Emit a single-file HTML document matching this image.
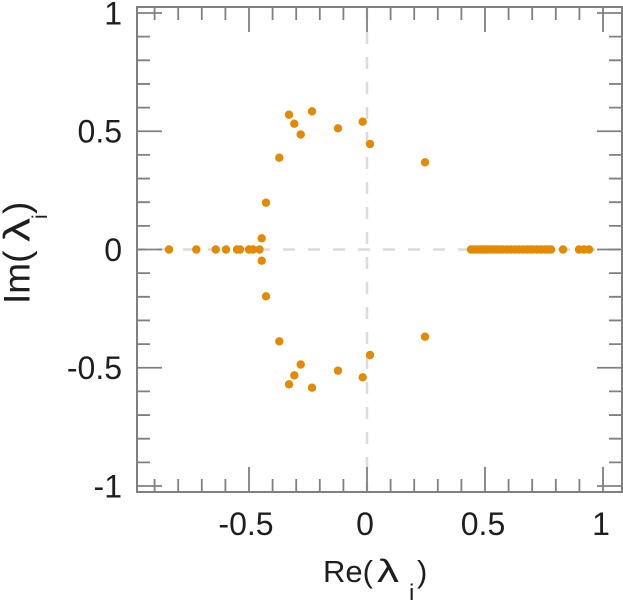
<!DOCTYPE html>
<html>
<head>
<meta charset="utf-8">
<style>
html,body{margin:0;padding:0;background:#fff;}
svg{display:block;}
text{font-family:"Liberation Sans",Arial,sans-serif;fill:#1e1e1e;}
</style>
</head>
<body>
<svg width="623" height="600" viewBox="0 0 623 600" xmlns="http://www.w3.org/2000/svg">
<rect width="623" height="600" fill="#fff"/>
<line x1="137" y1="249.5" x2="622" y2="249.5" stroke="#dcdcdc" stroke-width="2.5" stroke-dasharray="12 13" stroke-dashoffset="4"/>
<line x1="367" y1="7" x2="367" y2="492" stroke="#dcdcdc" stroke-width="2.5" stroke-dasharray="12 13"/>
<rect x="137" y="7" width="485" height="485" fill="none" stroke="#808080" stroke-width="2"/>
<path fill="none" stroke="#808080" stroke-width="1.8" d="M154.6 492v-13M178.2 492v-13M201.8 492v-13M225.4 492v-13M249 492v-25M272.6 492v-13M296.2 492v-13M319.8 492v-13M343.4 492v-13M367 492v-25M390.6 492v-13M414.2 492v-13M437.8 492v-13M461.4 492v-13M485 492v-25M508.6 492v-13M532.2 492v-13M555.8 492v-13M579.4 492v-13M603 492v-25M154.6 7v13M178.2 7v13M201.8 7v13M225.4 7v13M249 7v25M272.6 7v13M296.2 7v13M319.8 7v13M343.4 7v13M367 7v25M390.6 7v13M414.2 7v13M437.8 7v13M461.4 7v13M485 7v25M508.6 7v13M532.2 7v13M555.8 7v13M579.4 7v13M603 7v25M137 13h25M137 36.65h13M137 60.3h13M137 83.95h13M137 107.6h13M137 131.25h25M137 154.9h13M137 178.55h13M137 202.2h13M137 225.85h13M137 249.5h25M137 273.15h13M137 296.8h13M137 320.45h13M137 344.1h13M137 367.75h25M137 391.4h13M137 415.05h13M137 438.7h13M137 462.35h13M137 486h25M622 13h-25M622 36.65h-13M622 60.3h-13M622 83.95h-13M622 107.6h-13M622 131.25h-25M622 154.9h-13M622 178.55h-13M622 202.2h-13M622 225.85h-13M622 249.5h-25M622 273.15h-13M622 296.8h-13M622 320.45h-13M622 344.1h-13M622 367.75h-25M622 391.4h-13M622 415.05h-13M622 438.7h-13M622 462.35h-13M622 486h-25"/>
<g font-size="32" text-anchor="end">
<text x="122" y="24.5">1</text>
<text x="122" y="142.7">0.5</text>
<text x="122" y="261">0</text>
<text x="122" y="379.2">-0.5</text>
<text x="122" y="497.5">-1</text>
</g>
<g font-size="32" text-anchor="middle">
<text x="246" y="535">-0.5</text>
<text x="365" y="535">0</text>
<text x="483" y="535">0.5</text>
<text x="601" y="535">1</text>
</g>
<text x="323" y="582" font-size="31">Re(</text>
<text x="377" y="582" font-size="32" textLength="22" lengthAdjust="spacingAndGlyphs">λ</text>
<text x="409" y="601" font-size="24">i</text>
<text x="417" y="582" font-size="31">)</text>
<g transform="translate(29.5,304) rotate(-90)">
<text x="0" y="0" font-size="37">Im(</text>
<text x="62" y="0" font-size="37" textLength="24" lengthAdjust="spacingAndGlyphs">λ</text>
<text x="85" y="17.5" font-size="21">i</text>
<text x="90" y="0" font-size="37">)</text>
</g>
<g fill="#e38a00">
<circle cx="169" cy="249.5" r="4.2"/><circle cx="196.3" cy="249.5" r="4.2"/><circle cx="215.7" cy="249.5" r="4.2"/><circle cx="226" cy="249.5" r="4.2"/><circle cx="237" cy="249.5" r="4.2"/><circle cx="240" cy="249.5" r="4.2"/><circle cx="249" cy="249.5" r="4.2"/><circle cx="253" cy="249.5" r="4.2"/><circle cx="259.5" cy="249.5" r="4.2"/>
<circle cx="289" cy="114.7" r="4.2"/><circle cx="294.3" cy="123.7" r="4.2"/><circle cx="300.7" cy="134.5" r="4.2"/><circle cx="312" cy="111.3" r="4.2"/><circle cx="338" cy="128.3" r="4.2"/><circle cx="362.7" cy="121.7" r="4.2"/><circle cx="370" cy="144" r="4.2"/><circle cx="425" cy="162.3" r="4.2"/><circle cx="279.3" cy="157.7" r="4.2"/><circle cx="266" cy="202.7" r="4.2"/><circle cx="261.7" cy="238.3" r="4.2"/>
<circle cx="289" cy="384.3" r="4.2"/><circle cx="294.3" cy="375.3" r="4.2"/><circle cx="300.7" cy="364.5" r="4.2"/><circle cx="312" cy="387.7" r="4.2"/><circle cx="338" cy="370.7" r="4.2"/><circle cx="362.7" cy="377.3" r="4.2"/><circle cx="370" cy="355" r="4.2"/><circle cx="425" cy="336.7" r="4.2"/><circle cx="279.3" cy="341.3" r="4.2"/><circle cx="266" cy="296.3" r="4.2"/><circle cx="261.7" cy="260.7" r="4.2"/>
<circle cx="471" cy="249.5" r="4.2"/><circle cx="474" cy="249.5" r="4.2"/><circle cx="477" cy="249.5" r="4.2"/><circle cx="480" cy="249.5" r="4.2"/><circle cx="482" cy="249.5" r="4.2"/><circle cx="484" cy="249.5" r="4.2"/><circle cx="486" cy="249.5" r="4.2"/><circle cx="488" cy="249.5" r="4.2"/><circle cx="491" cy="249.5" r="4.2"/><circle cx="494" cy="249.5" r="4.2"/><circle cx="497" cy="249.5" r="4.2"/><circle cx="500" cy="249.5" r="4.2"/><circle cx="503" cy="249.5" r="4.2"/><circle cx="507" cy="249.5" r="4.2"/><circle cx="511" cy="249.5" r="4.2"/><circle cx="515" cy="249.5" r="4.2"/><circle cx="519" cy="249.5" r="4.2"/><circle cx="523" cy="249.5" r="4.2"/><circle cx="527" cy="249.5" r="4.2"/><circle cx="530" cy="249.5" r="4.2"/><circle cx="533" cy="249.5" r="4.2"/><circle cx="537" cy="249.5" r="4.2"/><circle cx="541" cy="249.5" r="4.2"/><circle cx="545" cy="249.5" r="4.2"/><circle cx="548" cy="249.5" r="4.2"/><circle cx="551" cy="249.5" r="4.2"/><circle cx="563" cy="249.5" r="4.2"/><circle cx="579" cy="249.5" r="4.2"/><circle cx="584" cy="249.5" r="4.2"/><circle cx="589" cy="249.5" r="4.2"/>
</g>
</svg>
</body>
</html>
